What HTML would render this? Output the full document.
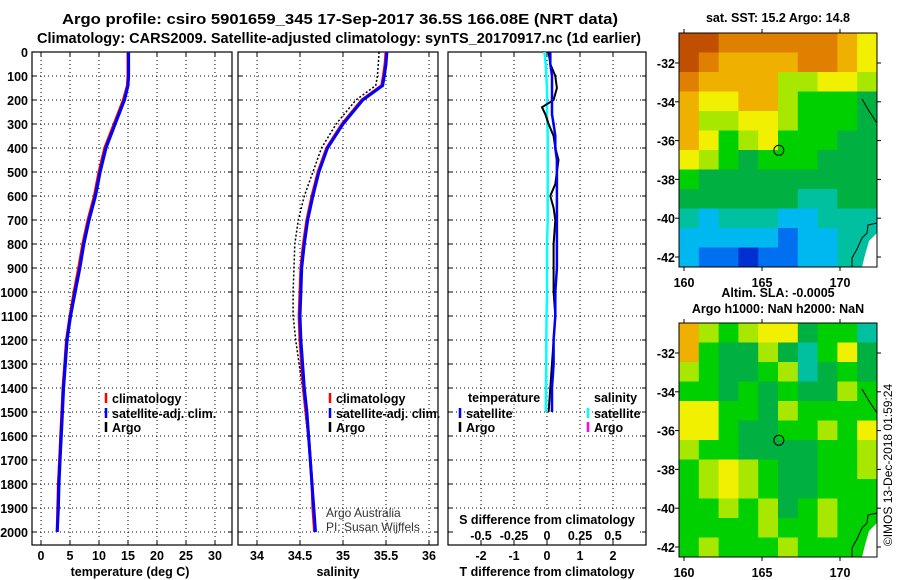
<!DOCTYPE html>
<html><head><meta charset="utf-8"><style>
body{margin:0;background:#fff;}
svg{display:block;font-family:"Liberation Sans",sans-serif;}
text{font-weight:bold;font-size:12.5px;fill:#000;}
</style></head><body>
<svg id="chart" width="900" height="580" viewBox="0 0 900 580" xmlns="http://www.w3.org/2000/svg">
<text x="340" y="24" text-anchor="middle" textLength="556" lengthAdjust="spacingAndGlyphs" style="font-size:14.5px">Argo profile: csiro 5901659_345 17-Sep-2017 36.5S 166.08E (NRT data)</text>
<text x="339" y="43" text-anchor="middle" textLength="604" lengthAdjust="spacingAndGlyphs" style="font-size:14.5px">Climatology: CARS2009. Satellite-adjusted climatology: synTS_20170917.nc (1d earlier)</text>
<g id="g"></g>
</svg>
<script>
const depthTicks=[0,100,200,300,400,500,600,700,800,900,1000,1100,1200,1300,1400,1500,1600,1700,1800,1900,2000];
const tempTicks=[0,5,10,15,20,25,30];
const salTicks=[34,34.5,35,35.5,36];
const tdTicks=[-2,-1,0,1,2];
const sdTicks=[-0.5,-0.25,0,0.25,0.5];
const sdTickLabels=["-0.5","-0.25","0","0.25","0.5"];
const depths=[0,50,100,140,200,300,400,500,600,700,800,900,1000,1100,1200,1300,1400,1500,1600,1700,1800,1900,2000];
const tempClim=[15,15,15,14.9,14.2,12.6,11.0,10.0,9.2,8.1,7.2,6.5,5.7,5.0,4.4,4.1,3.8,3.6,3.4,3.2,3.0,2.9,2.8];
const tempSat=[15.1,15.1,15.1,15.0,14.4,12.8,11.2,10.2,9.4,8.3,7.4,6.7,5.9,5.1,4.5,4.2,3.9,3.7,3.5,3.3,3.1,3.0,2.8];
const tempArgo=[15.0,15.0,15.0,15.0,14.3,12.7,11.1,10.1,9.3,8.2,7.3,6.6,5.8,5.0,4.4,4.1,3.8,3.6,3.4,3.2,3.0,2.9,2.8];
const salClim=[35.5,35.49,35.47,35.45,35.22,34.99,34.81,34.71,34.64,34.58,34.54,34.51,34.5,34.49,34.5,34.52,34.54,34.57,34.6,34.62,34.64,34.65,34.67];
const salSat=[35.51,35.5,35.48,35.46,35.23,35.0,34.82,34.72,34.65,34.59,34.55,34.52,34.51,34.5,34.51,34.53,34.55,34.58,34.6,34.62,34.64,34.66,34.68];
const salArgoDot=[35.42,35.41,35.4,35.38,35.15,34.92,34.75,34.65,34.55,34.48,34.44,34.43,34.42,34.42,34.45,34.49,34.53,34.56,34.59,34.62,34.64,34.65,34.67];
const diffDepths=[0,50,100,150,200,230,260,300,350,400,450,500,550,600,650,700,800,900,1000,1100,1200,1300,1400,1500];
const tDiffSat=[0.1,0.1,0.15,0.15,0.15,0.15,0.15,0.2,0.25,0.25,0.3,0.3,0.3,0.3,0.3,0.3,0.3,0.3,0.25,0.25,0.2,0.2,0.15,0.15];
const tDiffArgo=[0.05,0.1,0.25,0.3,0.2,-0.15,-0.05,0.05,0.2,0.25,0.35,0.3,0.25,0.1,0.2,0.25,0.2,0.2,0.2,0.25,0.2,0.15,0.1,0.05];
const sDiffSat=[-0.02,-0.01,-0.005,0,0,0,0,0.003,0.005,0.005,0.005,0.005,0.005,0.005,0.005,0.005,0,0,0,-0.003,-0.005,-0.005,-0.008,-0.008];

const NS="http://www.w3.org/2000/svg";
const G=document.getElementById('g');
function mk(t,a,p){const e=document.createElementNS(NS,t);for(const k in a)e.setAttribute(k,a[k]);(p||G).appendChild(e);return e;}
const top0=52,bot0=545;
const yD=d=>top0+d*0.24;
function panel(x0,x1,ticks,xf,labels,name){
  const g=mk('g',{});
  
  
  ticks.forEach(t=>{const x=xf(t);mk('line',{x1:x,x2:x,y1:top0,y2:bot0,stroke:'#000','stroke-dasharray':'1,3','stroke-width':1},g);
    mk('line',{x1:x,x2:x,y1:bot0,y2:bot0-4,stroke:'#000'},g);mk('line',{x1:x,x2:x,y1:top0,y2:top0+4,stroke:'#000'},g);});
  depthTicks.forEach(d=>{const y=yD(d);mk('line',{x1:x0,x2:x1,y1:y,y2:y,stroke:'#000','stroke-dasharray':'1,3'},g);
    mk('line',{x1:x0,x2:x0+4,y1:y,y2:y,stroke:'#000'},g);mk('line',{x1:x1-4,x2:x1,y1:y,y2:y,stroke:'#000'},g);});
  mk('rect',{x:x0,y:top0,width:x1-x0,height:bot0-top0,fill:'none',stroke:'#000','stroke-width':1.2},g);
  if(labels) ticks.forEach((t,i)=>{const e=mk('text',{x:xf(t),y:560,'text-anchor':'middle'},g);e.textContent=labels[i];});
  return g;
}
function line(xs,ds,xf,col,w,name,dash){
  const pts=xs.map((v,i)=>xf(v).toFixed(1)+','+yD(ds[i]).toFixed(1)).join(' ');
  const e=mk('polyline',{points:pts,fill:'none',stroke:col,'stroke-width':w});
  if(dash)e.setAttribute('stroke-dasharray',dash);
  
  
}
function txt(x,y,s,name,extra){const e=mk('text',Object.assign({x:x,y:y},extra||{}));e.textContent=s;
  
  return e;}
function leg(x,y,col,s,name){mk('line',{x1:x,x2:x,y1:y-10,y2:y,stroke:col,'stroke-width':2.5});txt(x+6,y,s,name);}

// panel 1 temperature
const xT=v=>41+v*5.8;
panel(32,232,tempTicks,xT,tempTicks.map(String),'temperature-panel');
depthTicks.forEach(d=>{txt(28,yD(d)+5,String(d),'depth-tick-label',{'text-anchor':'end'});});
line(tempClim,depths,xT,'#f00',3,'temp-climatology-line');
line(tempArgo,depths,xT,'#000',2,'temp-argo-line');
line(tempSat,depths,xT,'#00f',3,'temp-satellite-line');
txt(130,576,'temperature (deg C)','x-axis-title-temperature',{'text-anchor':'middle'});
leg(106,403,'#f00','climatology','legend-climatology');
leg(106,418,'#00f','satellite-adj. clim.','legend-satellite');
leg(106,432,'#000','Argo','legend-argo');

// panel 2 salinity
const xS=v=>300+(v-34.5)*86;
panel(238,438,salTicks,xS,salTicks.map(String),'salinity-panel');
line(salArgoDot,depths,xS,'#000',1.5,'sal-climatology-dotted','2,2');
line(salClim,depths,xS,'#f00',3,'sal-climatology-line');
line(salSat,depths,xS,'#00f',3,'sal-satellite-line');
txt(338,576,'salinity','x-axis-title-salinity',{'text-anchor':'middle'});
leg(330,403,'#f00','climatology','legend-climatology-2');
leg(330,418,'#00f','satellite-adj. clim.','legend-satellite-2');
leg(330,432,'#000','Argo','legend-argo-2');
txt(326,517,'Argo Australia','credit-line-1',{style:'font-weight:normal;font-size:12px;fill:#333'});
txt(326,531,'PI: Susan Wijffels','credit-line-2',{style:'font-weight:normal;font-size:12px;fill:#333'});

// panel 3 differences
const xTD=v=>547+v*33;
const xSD=v=>547+v*132;
panel(448,646,tdTicks,xTD,tdTicks.map(String),'difference-panel');
line(sDiffSat,diffDepths,xSD,'#0ff',2.5,'sal-diff-satellite-line');
line(tDiffArgo,diffDepths,xTD,'#000',2,'temp-diff-argo-line');
line(tDiffSat,diffDepths,xTD,'#00f',2.5,'temp-diff-satellite-line');
mk('rect',{x:455,y:510,width:185,height:30,fill:'#fff'});
txt(547,524,'S difference from climatology','s-diff-axis-title',{'text-anchor':'middle'});
sdTicks.forEach((t,i)=>txt(xSD(t),540,sdTickLabels[i],'s-diff-tick-label',{'text-anchor':'middle'}));
txt(547,576,'T difference from climatology','x-axis-title-tdiff',{'text-anchor':'middle'});
txt(468,402,'temperature','legend-temperature-head');
leg(460,418,'#00f','satellite','legend-t-satellite');
leg(460,432,'#000','Argo','legend-t-argo');
txt(594,402,'salinity','legend-salinity-head');
leg(588,418,'#0ff','satellite','legend-s-satellite');
leg(588,432,'#f0f','Argo','legend-s-argo');

// maps
const palette=['#0030d0','#0070f0','#00b8f0','#00c0a0','#00b040','#00d000','#a8e800','#f0f000','#f0b000','#e08000','#c05000'];
const sstGrid=["aa99999987","a988889987","9888866776","8778865554","8667765554","8756755544","7654555444","5444444444","4444443344","3233322333","2222212233","2110112233"];
const slaGrid=["8656774553","8544643574","6544563454","5545454465","7755465555","7754455657","6554444556","5676544556","5676544555","5565645655","5555655655","5655565555"];
const lonTicks=[160,165,170];
const latTicks=[-32,-34,-36,-38,-40,-42];
function map(y0,grid,name,t1,t2){
  const x0=679,x1=877,y1=y0+234;
  const g=mk('g',{});
  
  
  const cw=(x1-x0)/10,ch=234/12;
  grid.forEach((row,r)=>{for(let c=0;c<10;c++){const v=parseInt(row[c],16);
    mk('rect',{x:x0+c*cw,y:y0+r*ch,width:cw+0.5,height:ch+0.5,fill:palette[v]},g);}});
  const lonX=l=>684+(l-160)*15.6, latY=l=>y0+30+(-32-l)*19.4;
  mk('polygon',{points:`${x1},${y0+200} ${x1-8},${y0+208} ${x1-12},${y0+222} ${x1-15},${y1} ${x1},${y1}`,fill:'#fff'},g);
  mk('polyline',{points:`${x1},${y0+190} ${x1-9},${y0+192} ${x1-10},${y0+200} ${x1-15},${y0+205} ${x1-20},${y0+216} ${x1-25},${y0+225} ${x1-25},${y1}`,fill:'none',stroke:'#000'},g);
  mk('polyline',{points:`${x1-15},${y0+66} ${x1-8},${y0+78} ${x1},${y0+90}`,fill:'none',stroke:'#000'},g);
  mk('circle',{cx:lonX(166.08),cy:latY(-36.5),r:5,fill:'none',stroke:'#000'},g);
  mk('rect',{x:x0,y:y0,width:x1-x0,height:234,fill:'none',stroke:'#000'},g);
  lonTicks.forEach(l=>{mk('line',{x1:lonX(l),x2:lonX(l),y1:y1,y2:y1+4,stroke:'#000'},g);mk('line',{x1:lonX(l),x2:lonX(l),y1:y0,y2:y0-4,stroke:'#000'},g);
    txt(lonX(l),y1+20,String(l),'lon-tick-label',{'text-anchor':'middle'});});
  latTicks.forEach(l=>{mk('line',{x1:x0-4,x2:x0,y1:latY(l),y2:latY(l),stroke:'#000'},g);mk('line',{x1:x1,x2:x1+4,y1:latY(l),y2:latY(l),stroke:'#000'},g);
    txt(x0-4,latY(l)+5,String(l),'lat-tick-label',{'text-anchor':'end'});});
  txt(778,y0-(t2?26:11),t1,'map-title',{'text-anchor':'middle'});
  if(t2)txt(778,y0-10,t2,'map-subtitle',{'text-anchor':'middle'});
}
map(33,sstGrid,'sst-map','sat. SST: 15.2 Argo: 14.8');
map(323,slaGrid,'sla-map','Altim. SLA: -0.0005','Argo h1000: NaN h2000: NaN');
txt(0,0,'©IMOS 13-Dec-2018 01:59:24','timestamp',{transform:'translate(892,465) rotate(-90)','text-anchor':'middle',style:'font-weight:normal;font-size:12px'});
</script>
</body></html>
